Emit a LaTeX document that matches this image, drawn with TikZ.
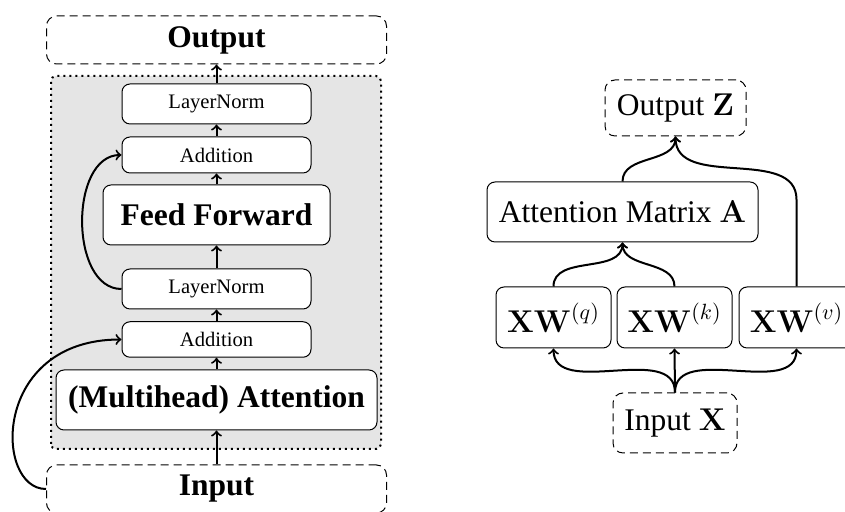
\RequirePackage{fix-cm}
\documentclass[tikz,border=0pt]{standalone}
\usepackage[no-math]{fontspec}
\setmainfont{Liberation Serif}
\begin{document}
\begin{tikzpicture}[x=0.5pt,y=0.5pt,
  small/.style={font=\fontsize{10.3}{12}\selectfont},
  big/.style={font=\fontsize{15.75}{18}\selectfont},
  bigbf/.style={font=\fontsize{15.75}{18}\selectfont\bfseries},
  blk/.style={draw, fill=white, rounded corners=4pt, line width=0.5pt, inner sep=0pt},
  term/.style={draw, dash pattern=on 4pt off 2.5pt, line width=0.5pt, rounded corners=5pt, inner sep=0pt},
  link/.style={line width=1pt, ->},
  smallblk/.style={blk, small, minimum width=94.5pt}
]
\useasboundingbox (0,0) rectangle (845,512);
\clip (0,0) rectangle (845,512);

% ---------- transformer block ----------
\draw[dotted, line width=1pt, fill=gray!20, rounded corners=2.5pt] (51,63) rectangle (381,436);

\node[term, bigbf, minimum width=170pt, minimum height=24pt] (out) at (216.5,472) {Output};
\node[smallblk, minimum height=20pt] (ln2) at (216.5,408) {LayerNorm};
\node[smallblk, minimum height=18pt] (add2) at (216.5,357) {Addition};
\node[blk, bigbf, minimum width=113.5pt, minimum height=30pt] (ff) at (216.5,297) {Feed Forward};
\node[smallblk, minimum height=20pt] (ln1) at (216.5,223) {LayerNorm};
\node[smallblk, minimum height=17.75pt] (add1) at (216.5,172.5) {Addition};
\node[blk, bigbf, minimum width=160.5pt, minimum height=30pt] (att) at (216.5,112) {(Multihead) Attention};
\node[term, bigbf, minimum width=170pt, minimum height=24pt] (in) at (216.5,23) {Input};

\draw[link] (in.north) -- (att.south);
\draw[link] (att.north) -- (add1.south);
\draw[link] (add1.north) -- (ln1.south);
\draw[link] (ln1.north) -- (ff.south);
\draw[link] (ff.north) -- (add2.south);
\draw[link] (add2.north) -- (ln2.south);
\draw[link] (ln2.north) -- (out.south);

% residual connections
\draw[link] (ln1.west) to[out=180,in=180] (add2.west);
\draw[link] (in.west) .. controls +(-52,0) and +(-130,0) .. (add1.west);

% ---------- attention head ----------
\node[term, big, minimum width=70.5pt, minimum height=28pt] (Z) at (675.5,404) {Output $\mathbf{Z}$};
\node[blk, big, minimum width=135.5pt, minimum height=30pt] (A) at (622.5,300) {Attention Matrix $\mathbf{A}$};
\node[blk, big, minimum width=57.5pt, minimum height=30.5pt] (q) at (553.5,194.5) {$\mathbf{XW}^{(q)}$};
\node[blk, big, minimum width=57.5pt, minimum height=30.5pt] (k) at (674.5,194.5) {$\mathbf{XW}^{(k)}$};
\node[blk, big, minimum width=57.5pt, minimum height=30.5pt] (v) at (796.5,194.5) {$\mathbf{XW}^{(v)}$};
\node[term, big, minimum width=62pt, minimum height=30pt] (X) at (675,89) {Input $\mathbf{X}$};

\draw[link] (X.north) to[out=90,in=-90] (q.south);
\draw[link] (X.north) -- (k.south);
\draw[link] (X.north) to[out=90,in=-90] (v.south);
\draw[link] (q.north) to[out=90,in=-90] (A.south);
\draw[link] (k.north) to[out=90,in=-90] (A.south);
\draw[link] (A.north) to[out=90,in=-90] (Z.south);
\draw[link] (v.north) -- ++(0,87) to[out=90,in=-90] (Z.south);
\end{tikzpicture}
\end{document}
